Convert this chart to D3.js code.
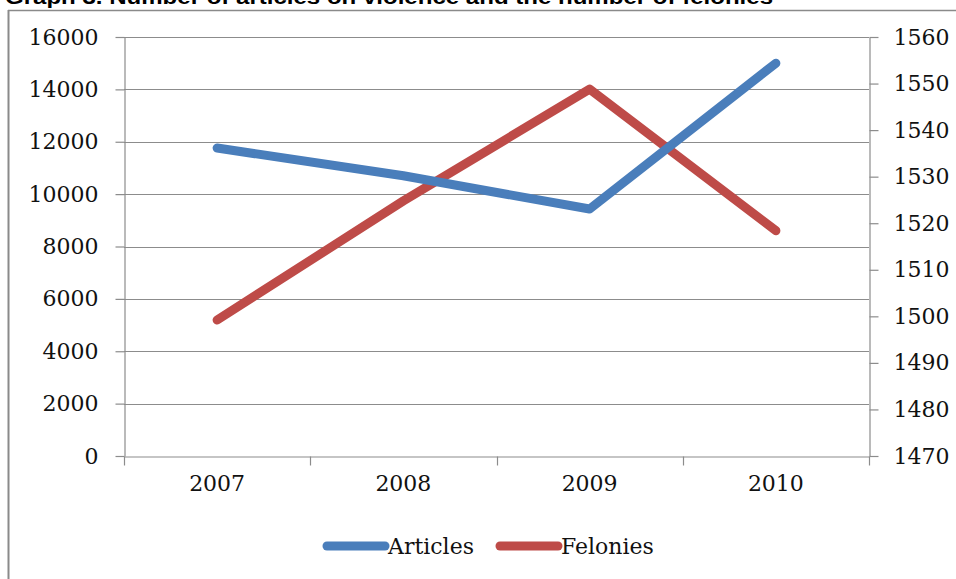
<!DOCTYPE html>
<html>
<head>
<meta charset="utf-8">
<script src="https://cdn.jsdelivr.net/npm/d3@7"></script>
<style>
  html, body { margin: 0; padding: 0; background: #fff; }
  svg { display: block; }
</style>
</head>
<body>
<svg id="chart" width="956" height="579"></svg>
<script>
// Data
const years = ["2007", "2008", "2009", "2010"];
const articles = [11760, 10700, 9430, 15000];
const felonies = [1499.2, 1524.8, 1548.8, 1518.4];
const leftTicks = [0, 2000, 4000, 6000, 8000, 10000, 12000, 14000, 16000];
const rightTicks = [1470, 1480, 1490, 1500, 1510, 1520, 1530, 1540, 1550, 1560];
const seriesNames = ["Articles", "Felonies"];
const seriesColors = ["#4A7EBB", "#BE4B48"];
const title = "Graph 3. Number of articles on violence and the number of felonies";

const svg = d3.select("#chart");
const plot = { left: 124, right: 869, top: 37, bottom: 456 };
const gridColor = "#8c8c8c";
const tickFont = "'DejaVu Serif', serif";
const plain = d3.format("d");

// Outer frame of the chart area
svg.append("line").attr("x1", 8).attr("x2", 956).attr("y1", 10.5).attr("y2", 10.5)
  .attr("stroke", "#8a8a8a").attr("stroke-width", 1.5);
svg.append("line").attr("x1", 8.5).attr("x2", 8.5).attr("y1", 10).attr("y2", 579)
  .attr("stroke", "#8a8a8a").attr("stroke-width", 2);

// Title, set above the frame (its top runs past the page edge)
svg.append("text")
  .attr("x", 5).attr("y", 4)
  .attr("font-family", "'Liberation Sans', Arial, sans-serif")
  .attr("font-weight", "bold").attr("font-size", 20)
  .attr("textLength", 768).attr("lengthAdjust", "spacingAndGlyphs")
  .attr("fill", "#000")
  .text(title);

// Scales
const x = d3.scaleBand().domain(years).range([plot.left, plot.right]).padding(0);
const yL = d3.scaleLinear().domain([0, 16000]).range([plot.bottom, plot.top]);
const yR = d3.scaleLinear().domain([1470, 1560]).range([plot.bottom, plot.top]);

// Horizontal gridlines
svg.append("g").selectAll("line").data(leftTicks.filter(d => d > 0)).join("line")
  .attr("x1", plot.left).attr("x2", plot.right)
  .attr("y1", d => Math.round(yL(d)) + 0.5).attr("y2", d => Math.round(yL(d)) + 0.5)
  .attr("stroke", gridColor).attr("stroke-width", 1.2);

// Left axis
const leftAxis = svg.append("g")
  .attr("transform", `translate(${plot.left + 0.5},0)`)
  .call(d3.axisLeft(yL).tickValues(leftTicks).tickFormat(plain)
    .tickSize(9).tickPadding(17).tickSizeOuter(0));

// Right axis
const rightAxis = svg.append("g")
  .attr("transform", `translate(${plot.right + 0.5},0)`)
  .call(d3.axisRight(yR).tickValues(rightTicks).tickFormat(plain)
    .tickSize(9).tickPadding(15).tickSizeOuter(0));

// Bottom axis with ticks at category boundaries
const bottomAxis = svg.append("g")
  .attr("transform", `translate(0,${plot.bottom + 0.5})`)
  .call(d3.axisBottom(x).tickSize(0).tickPadding(30).tickSizeOuter(0));
const boundaries = years.map(d => x(d)).concat([x(years[years.length - 1]) + x.bandwidth()]);
bottomAxis.selectAll(".boundary").data(boundaries).join("line")
  .attr("class", "boundary")
  .attr("x1", d => Math.round(d) + 0.5).attr("x2", d => Math.round(d) + 0.5)
  .attr("y1", 0).attr("y2", 9)
  .attr("stroke", gridColor).attr("stroke-width", 1.2);

[leftAxis, rightAxis, bottomAxis].forEach(g => {
  g.selectAll(".domain").attr("stroke", gridColor).attr("stroke-width", 1.2);
  g.selectAll(".tick line").attr("stroke", gridColor).attr("stroke-width", 1.2);
  g.selectAll("text").attr("font-family", tickFont).attr("font-size", 22).attr("fill", "#111");
});
bottomAxis.selectAll(".tick text").attr("dy", "0.2em");

// Series lines
const cx = d => x(d) + x.bandwidth() / 2;
const lineL = d3.line().x((d, i) => cx(years[i])).y(d => yL(d));
const lineR = d3.line().x((d, i) => cx(years[i])).y(d => yR(d));

svg.append("path").datum(felonies)
  .attr("d", lineR)
  .attr("fill", "none").attr("stroke", seriesColors[1]).attr("stroke-width", 9)
  .attr("stroke-linecap", "round").attr("stroke-linejoin", "round");

svg.append("path").datum(articles)
  .attr("d", lineL)
  .attr("fill", "none").attr("stroke", seriesColors[0]).attr("stroke-width", 9)
  .attr("stroke-linecap", "round").attr("stroke-linejoin", "round");

// Legend
const legend = svg.append("g").attr("transform", "translate(0,546)");
const legendX = [327, 500];
seriesNames.forEach((name, i) => {
  const g = legend.append("g").attr("transform", `translate(${legendX[i]},0)`);
  g.append("line").attr("x1", 0).attr("x2", 58).attr("y1", 0).attr("y2", 0)
    .attr("stroke", seriesColors[i]).attr("stroke-width", 9).attr("stroke-linecap", "round");
  g.append("text").attr("x", 61).attr("y", 0).attr("dy", "0.36em")
    .attr("font-family", tickFont).attr("font-size", 22).attr("fill", "#111")
    .text(name);
});
</script>
</body>
</html>
